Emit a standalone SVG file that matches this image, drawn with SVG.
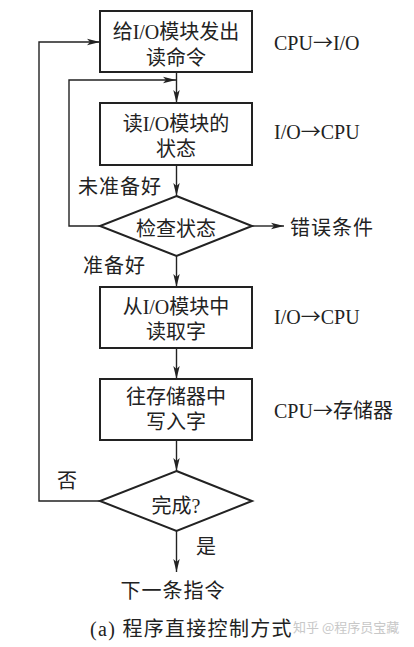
<svg xmlns="http://www.w3.org/2000/svg" width="414" height="647" viewBox="0 0 414 647">
<style>
.box{fill:#fff;stroke:#222;stroke-width:2}
.ln{fill:none;stroke:#222;stroke-width:1.4}
text{font-family:"Liberation Serif","Noto Sans CJK SC",serif;font-size:20px;fill:#222}
.c{text-anchor:middle}
.ar{font-family:"Noto Sans CJK SC",sans-serif}
.wm{font-family:"Noto Sans CJK SC",sans-serif;font-size:13px;fill:#c8c8c8}
</style>
<defs>
<marker id="ah" markerUnits="userSpaceOnUse" markerWidth="14" markerHeight="8" refX="13" refY="4" orient="auto">
<path d="M0,0.8 L13,4 L0,7.2 L3,4 z" fill="#222"/>
</marker>
</defs>
<rect width="414" height="647" fill="#fff"/>
<g id="connectors">
<line class="ln" x1="176.5" y1="72" x2="176.5" y2="103" marker-end="url(#ah)"/>
<line class="ln" x1="176.5" y1="165" x2="176.5" y2="196" marker-end="url(#ah)"/>
<polyline class="ln" points="100,226 69,226 69,80 176,80" marker-end="url(#ah)"/>
<line class="ln" x1="252" y1="226" x2="284" y2="226" marker-end="url(#ah)"/>
<line class="ln" x1="176.5" y1="256" x2="176.5" y2="287" marker-end="url(#ah)"/>
<line class="ln" x1="176.5" y1="348" x2="176.5" y2="379" marker-end="url(#ah)"/>
<line class="ln" x1="176.5" y1="440" x2="176.5" y2="471" marker-end="url(#ah)"/>
<polyline class="ln" points="100,501 39,501 39,42 100,42" marker-end="url(#ah)"/>
<line class="ln" x1="176.5" y1="531" x2="176.5" y2="572" marker-end="url(#ah)"/>
</g>
<g id="n1">
<rect class="box" x="100" y="11" width="152" height="61"/>
<text class="c" x="176" y="39">给I/O模块发出</text>
<text class="c" x="176" y="65">读命令</text>
</g>
<g id="n2">
<rect class="box" x="100" y="103" width="152" height="62"/>
<text class="c" x="176" y="131">读I/O模块的</text>
<text class="c" x="176" y="156">状态</text>
</g>
<g id="n3">
<polygon class="box" points="176.5,196 252,226 176.5,256 100,226"/>
<text class="c" x="176" y="236">检查状态</text>
</g>
<g id="n4">
<rect class="box" x="100" y="287" width="152" height="61"/>
<text class="c" x="176" y="314">从I/O模块中</text>
<text class="c" x="176" y="339">读取字</text>
</g>
<g id="n5">
<rect class="box" x="100" y="379" width="152" height="61"/>
<text class="c" x="176" y="404">往存储器中</text>
<text class="c" x="176" y="429">写入字</text>
</g>
<g id="n6">
<polygon class="box" points="176.5,471 252,501 176.5,531 100,501"/>
<text class="c" x="176" y="513">完成?</text>
</g>
<g id="labels">
<text x="274" y="50">CPU<tspan class="ar">→</tspan>I/O</text>
<text x="274" y="139">I/O<tspan class="ar">→</tspan>CPU</text>
<text x="78" y="194" letter-spacing="1">未准备好</text>
<text x="290" y="235" letter-spacing="1">错误条件</text>
<text x="83" y="273" letter-spacing="1">准备好</text>
<text x="274" y="324">I/O<tspan class="ar">→</tspan>CPU</text>
<text x="274" y="418">CPU<tspan class="ar">→</tspan>存储器</text>
<text x="57" y="488">否</text>
<text x="196" y="554">是</text>
<text class="c" x="173" y="598" letter-spacing="1">下一条指令</text>
<text x="90" y="636" letter-spacing="1.3">(a) 程序直接控制方式</text>
<text class="wm" x="293" y="632">知乎 @程序员宝藏</text>
</g>
</svg>
